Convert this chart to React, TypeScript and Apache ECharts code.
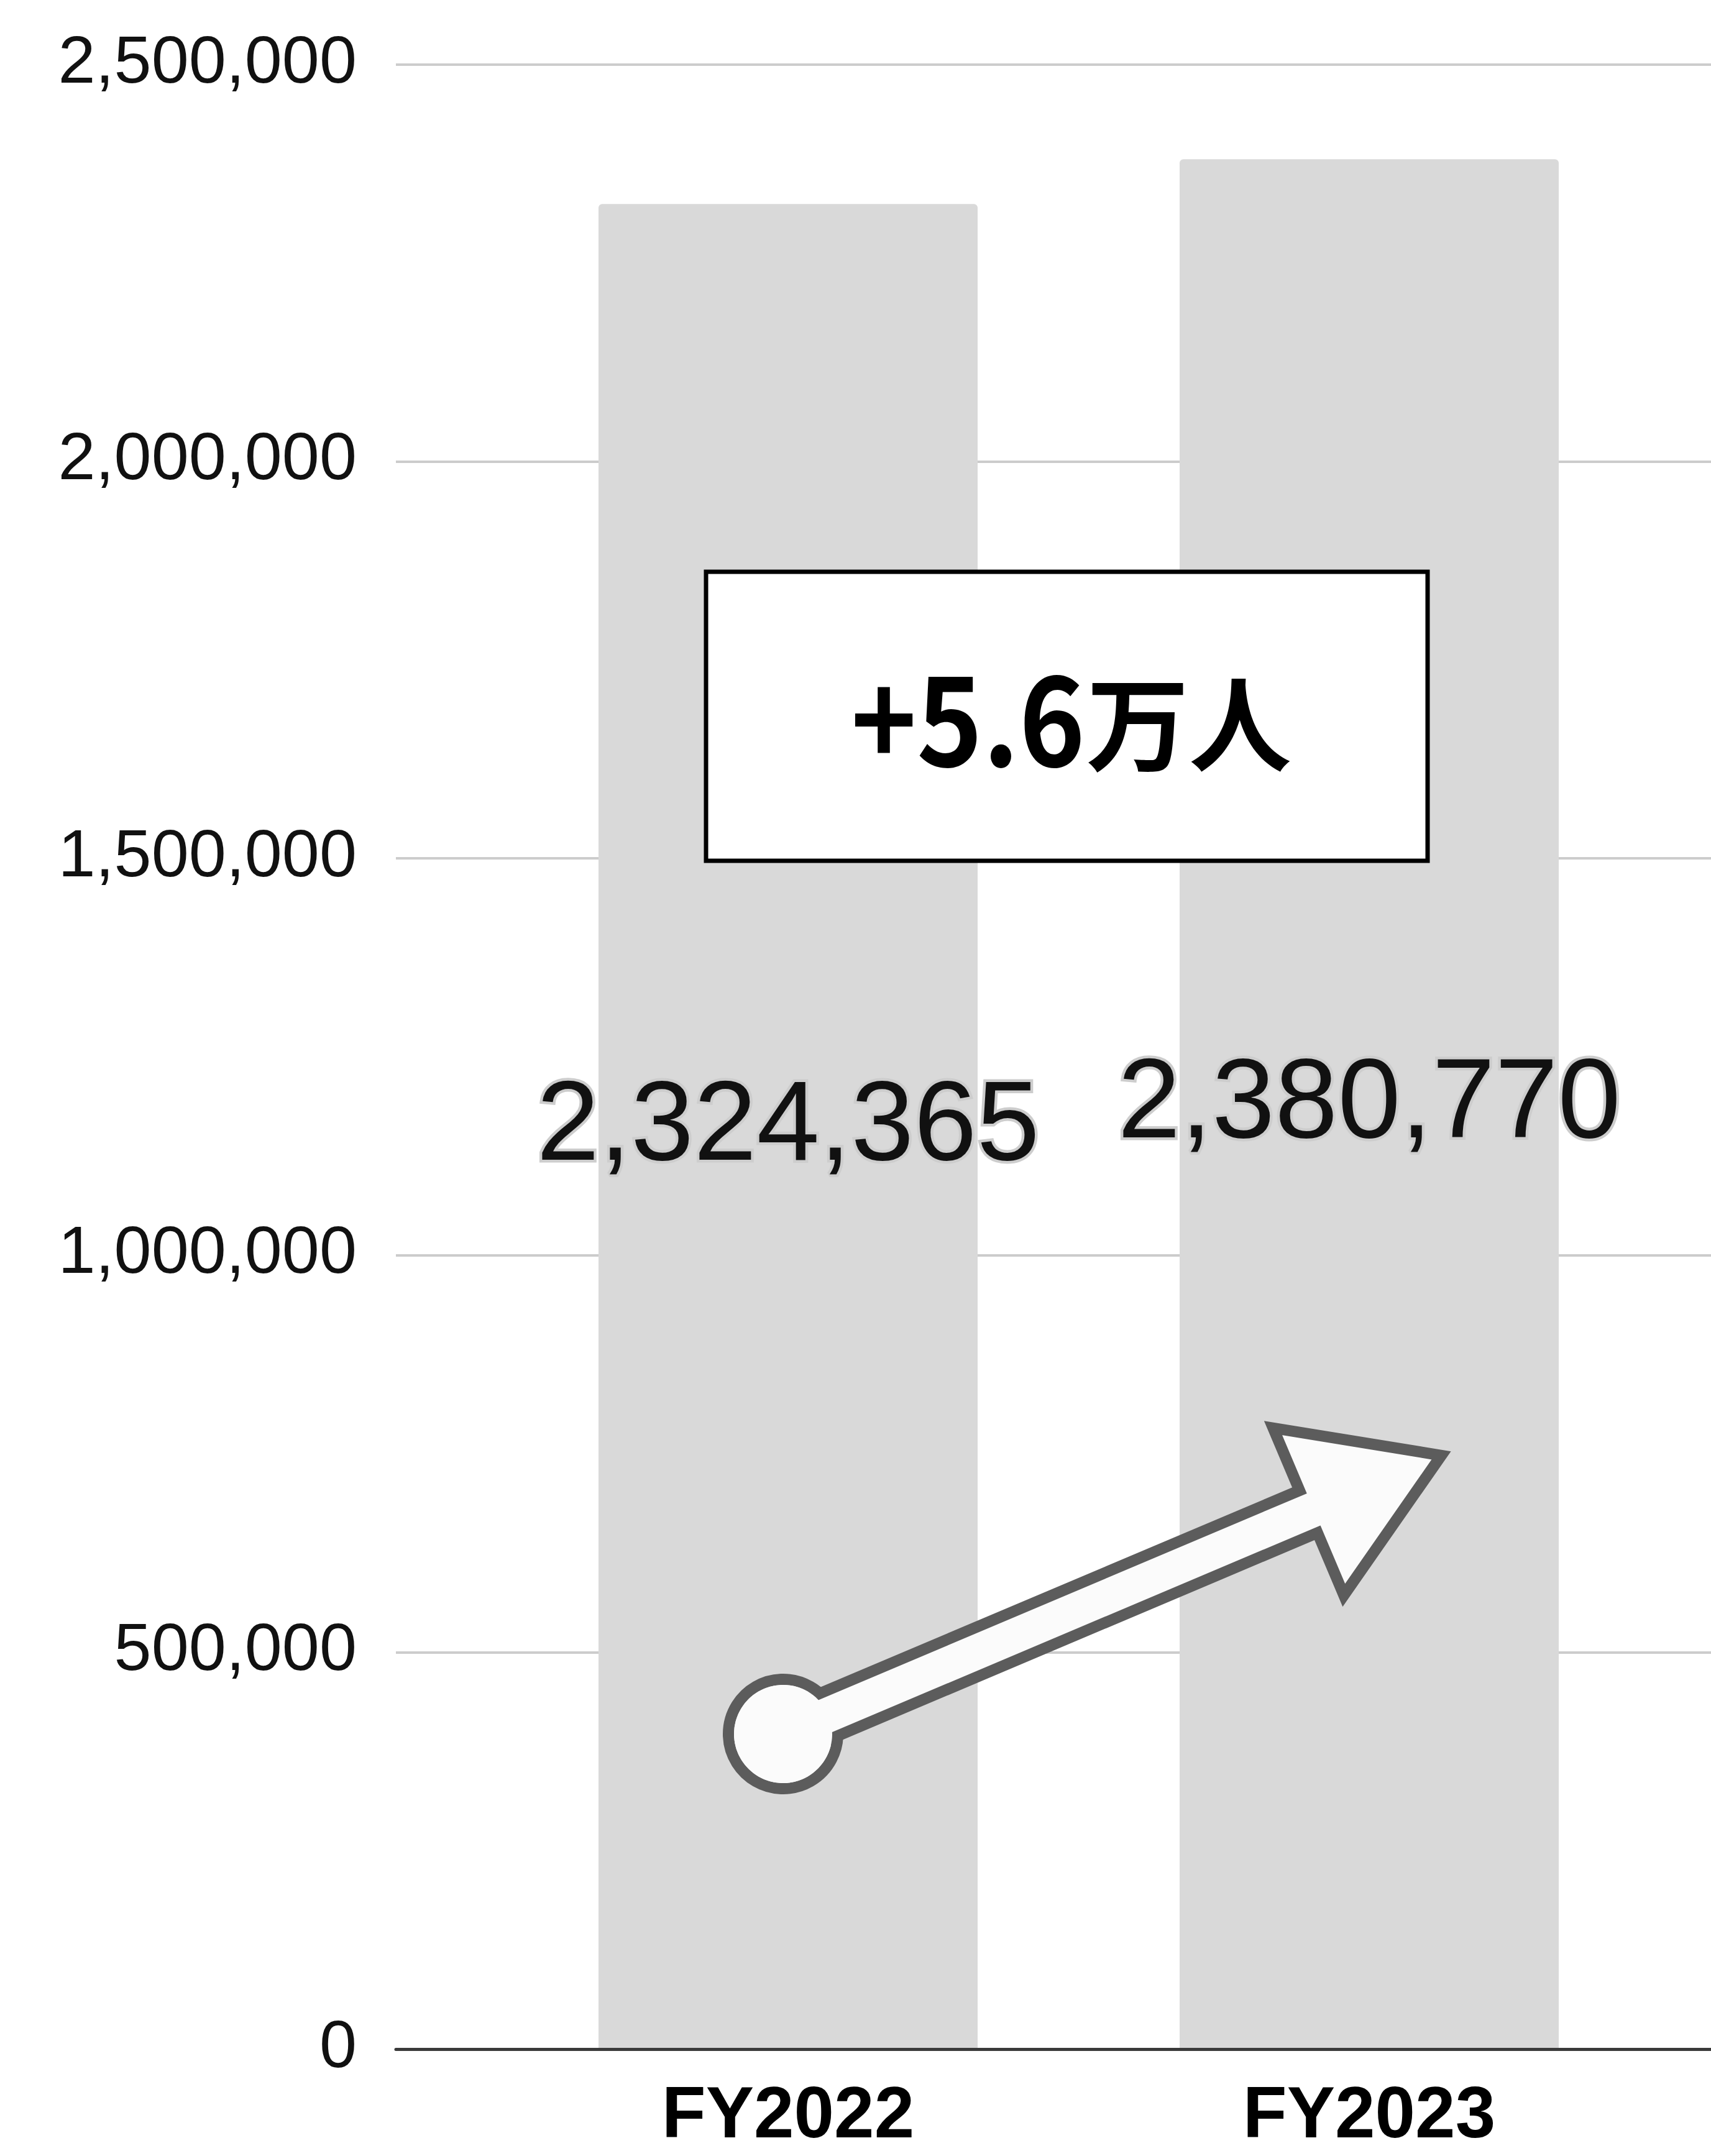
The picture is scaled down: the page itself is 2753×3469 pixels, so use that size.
import React, { useEffect, useRef } from "react";
import * as echarts from "echarts";

// ---- data ----
const categories: string[] = ["FY2022", "FY2023"];
const visitors: number[] = [2324365, 2380770];
const yMin = 0;
const yMax = 2500000;
const yInterval = 500000;
const deltaMain = "+5.6";
const deltaUnit = "万人";

const W = 2753;
const H = 3469;

const fmt = (v: number) => Number(v).toLocaleString("en-US");

// arrow geometry helpers (decoration)
function arrowPoints(cx: number, cy: number, angleDeg: number) {
  const a = (angleDeg * Math.PI) / 180;
  const u = [Math.cos(a), -Math.sin(a)];
  const n = [Math.sin(a), Math.cos(a)];
  const pts: [number, number][] = [
    [0, -37],
    [918, -37],
    [918, -146],
    [1150, 0],
    [918, 146],
    [918, 37],
    [0, 37],
  ];
  return pts.map(([s, t]) => [cx + s * u[0] + t * n[0], cy + s * u[1] + t * n[1]]);
}

export default function App() {
  const ref = useRef<HTMLDivElement>(null);

  useEffect(() => {
    if (!ref.current) return;
    const chart = echarts.init(ref.current, undefined, { renderer: "svg" });

    const gridTop = 104;
    const gridBottom = H - 3297;
    const arrowCx = 1260;
    const arrowCy = 2790;
    const pts = arrowPoints(arrowCx, arrowCy, 22.94);
    const arrowStroke = "#5c5c5c";
    const arrowFill = "#fbfbfb";
    const arrowLw = 18;

    chart.setOption({
      animation: false,
      backgroundColor: "#ffffff",
      grid: [
        { left: 637, right: 0, top: gridTop, bottom: gridBottom },
        { left: 800.5, right: 82.5, top: gridTop, bottom: gridBottom },
      ],
      xAxis: [
        {
          type: "category",
          gridIndex: 0,
          data: [""],
          z: 5,
          axisLine: { show: true, lineStyle: { color: "#3a3a3a", width: 5 } },
          axisTick: { show: false },
          axisLabel: { show: false },
          splitLine: { show: false },
        },
        {
          type: "category",
          gridIndex: 1,
          data: categories,
          axisLine: { show: false },
          axisTick: { show: false },
          axisLabel: {
            show: true,
            margin: 52,
            color: "#000000",
            fontFamily: "Liberation Sans",
            fontWeight: "bold",
            fontSize: 116,
            lineHeight: 100,
          },
        },
      ],
      yAxis: [
        {
          type: "value",
          gridIndex: 0,
          min: yMin,
          max: yMax,
          interval: yInterval,
          axisLine: { show: false },
          axisTick: { show: false },
          axisLabel: {
            margin: 63,
            color: "#111111",
            fontFamily: "Liberation Sans",
            fontSize: 108,
            verticalAlign: "bottom",
            lineHeight: 18,
            formatter: (v: number) => fmt(v),
          },
          splitLine: { show: true, lineStyle: { color: "#cccccc", width: 4 } },
        },
        {
          type: "value",
          gridIndex: 1,
          min: yMin,
          max: yMax,
          interval: yInterval,
          show: false,
          splitLine: { show: false },
        },
      ],
      series: [
        {
          type: "bar",
          xAxisIndex: 1,
          yAxisIndex: 1,
          data: visitors,
          barWidth: 610,
          itemStyle: { color: "#d9d9d9", borderRadius: [6, 6, 0, 0] },
          label: {
            show: true,
            position: "inside",
            offset: [0, -10],
            formatter: (p: any) => fmt(p.value),
            color: "#111111",
            fontFamily: "Liberation Sans",
            fontSize: 182,
            textBorderColor: "#cdcdcd",
            textBorderWidth: 9,
          },
        },
      ],
      graphic: [
        {
          type: "rect",
          z: 10,
          shape: { x: 1136, y: 920, width: 1161, height: 465 },
          style: { fill: "#ffffff", stroke: "#000000", lineWidth: 7 },
        },
        {
          type: "text",
          z: 11,
          x: 1746,
          y: 1146,
          scaleX: 0.9,
          style: {
            text: deltaMain,
            fill: "#000000",
            fontFamily: "Noto Sans CJK JP",
            fontWeight: "bold",
            fontSize: 200,
            align: "right",
            verticalAlign: "middle",
          },
        },
        {
          type: "text",
          z: 11,
          x: 1748,
          y: 1156,
          style: {
            text: deltaUnit,
            fill: "#000000",
            fontFamily: "Noto Sans CJK JP",
            fontWeight: "bold",
            fontSize: 165,
            align: "left",
            verticalAlign: "middle",
          },
        },
        // arrow: outline layers
        {
          type: "circle",
          z: 10,
          shape: { cx: arrowCx, cy: arrowCy, r: 88 },
          style: { fill: arrowFill, stroke: arrowStroke, lineWidth: arrowLw },
        },
        {
          type: "polygon",
          z: 11,
          shape: { points: pts },
          style: { fill: arrowFill, stroke: arrowStroke, lineWidth: arrowLw, lineJoin: "miter" },
        },
        {
          type: "circle",
          z: 12,
          shape: { cx: arrowCx, cy: arrowCy, r: 79 },
          style: { fill: arrowFill },
        },
      ],
    });

    return () => chart.dispose();
  }, []);

  return (
    <div
      ref={ref}
      style={{ position: "absolute", left: 0, top: 0, width: W, height: H }}
    />
  );
}
